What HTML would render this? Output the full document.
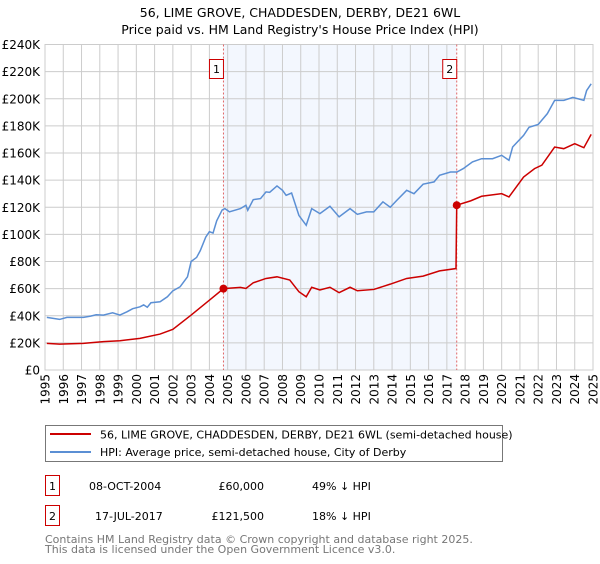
<!DOCTYPE html>
<html><head><meta charset="utf-8"><style>
body{margin:0;background:#fff;font-family:"DejaVu Sans","Liberation Sans",sans-serif;}
svg text{font-family:"DejaVu Sans","Liberation Sans",sans-serif;}
</style></head><body>
<svg id="c" width="600" height="560" xmlns="http://www.w3.org/2000/svg">
<text x="300" y="17" text-anchor="middle" font-size="12.5" fill="#000">56, LIME GROVE, CHADDESDEN, DERBY, DE21 6WL</text>
<text x="300" y="34" text-anchor="middle" font-size="12.5" fill="#000">Price paid vs. HM Land Registry's House Price Index (HPI)</text>
<g id="plot"></g>
<rect x="45.5" y="425.5" width="457" height="36" fill="#fff" stroke="#777"/>
<line x1="50" y1="434" x2="91" y2="434" stroke="#cc0000" stroke-width="2"/>
<text x="100" y="438.5" font-size="11">56, LIME GROVE, CHADDESDEN, DERBY, DE21 6WL (semi-detached house)</text>
<line x1="50" y1="452" x2="91" y2="452" stroke="#5b8fd4" stroke-width="2"/>
<text x="100" y="456" font-size="11">HPI: Average price, semi-detached house, City of Derby</text>
<g>
<rect x="45.5" y="475.5" width="14" height="20" fill="none" stroke="#cc0000"/>
<text x="52.5" y="490" text-anchor="middle" font-size="11">1</text>
<text x="89" y="490" font-size="11">08-OCT-2004</text>
<text x="264" y="490" text-anchor="end" font-size="11">£60,000</text>
<text x="312" y="490" font-size="11">49% ↓ HPI</text></g>
<g>
<rect x="45.5" y="505.5" width="14" height="20" fill="none" stroke="#cc0000"/>
<text x="52.5" y="520" text-anchor="middle" font-size="11">2</text>
<text x="95" y="520" font-size="11">17-JUL-2017</text>
<text x="264" y="520" text-anchor="end" font-size="11">£121,500</text>
<text x="312" y="520" font-size="11">18% ↓ HPI</text></g>
<text x="45" y="543" font-size="11" fill="#777">Contains HM Land Registry data © Crown copyright and database right 2025.</text>
<text x="45" y="553" font-size="11" fill="#777">This data is licensed under the Open Government Licence v3.0.</text>
</svg>
<script>
const hpiYears=[1995.1,1995.8,1996.2,1997.1,1997.5,1997.8,1998.2,1998.7,1999.1,1999.5,1999.8,2000.2,2000.4,2000.6,2000.8,2001.3,2001.7,2002.0,2002.4,2002.8,2003.0,2003.3,2003.5,2003.8,2004.0,2004.2,2004.4,2004.7,2004.85,2005.1,2005.7,2006.0,2006.1,2006.4,2006.8,2007.1,2007.3,2007.7,2008.0,2008.2,2008.5,2008.9,2009.3,2009.6,2010.05,2010.6,2011.1,2011.7,2012.1,2012.6,2013.0,2013.5,2013.9,2014.25,2014.8,2015.2,2015.7,2016.3,2016.6,2017.2,2017.55,2017.9,2018.4,2018.9,2019.5,2020.0,2020.4,2020.6,2021.2,2021.5,2022.0,2022.5,2022.9,2023.4,2023.9,2024.5,2024.65,2024.9];
const hpiValues=[38.8,37.3,38.8,38.8,39.7,40.7,40.5,42.2,40.5,43,45.2,46.6,48,46.3,49.6,50.3,54,58.4,61.4,68.7,80,83,88,98,102,101,110,118,119,116.6,119,121.5,117.8,125.6,126.4,131.3,131,135.7,132.5,128.8,130.5,114,106.7,119,115.3,120.7,112.9,119,114.8,116.6,116.6,124,120,125,132.5,130,137,138.7,143.6,146,146,148.5,153.4,155.8,155.8,158.3,154.6,164.4,173,179,181,189,198.8,198.8,201,198.8,206,211];
const priceYears=[1995.1,1995.8,1997.1,1998.2,1999.1,2000.2,2001.3,2002.0,2003.0,2004.0,2004.77,2005.7,2006.0,2006.4,2007.1,2007.7,2008.4,2008.9,2009.3,2009.6,2010.05,2010.6,2011.1,2011.7,2012.1,2013.0,2013.9,2014.8,2015.7,2016.6,2017.5,2017.54,2018.3,2018.9,2020.0,2020.4,2021.2,2021.8,2022.2,2022.9,2023.4,2024.0,2024.5,2024.9];
const priceValues=[19.6,19.1,19.6,20.9,21.6,23.3,26.5,30,40.5,51.5,60,60.9,60.1,64.3,67.5,68.7,66.3,57.7,54,61,59,61,57,61,58.4,59.4,63.3,67.5,69.2,73.1,74.8,121.5,124.7,128.1,130,127.6,142.3,148.5,151,164.4,163.2,166.9,163.9,173.7];
const saleYears=[2004.77,2017.54];
const saleValues=[60,121.5];
const saleLabels=["1","2"];
const yTicks=[0,20,40,60,80,100,120,140,160,180,200,220,240];
const xTicks=[1995,1996,1997,1998,1999,2000,2001,2002,2003,2004,2005,2006,2007,2008,2009,2010,2011,2012,2013,2014,2015,2016,2017,2018,2019,2020,2021,2022,2023,2024,2025];
const L=45,R=593,T=44.5,B=370;
const X=y=>L+(y-1995)/30*(R-L);
const Y=v=>B-v/240*(B-T);
const NS="http://www.w3.org/2000/svg";
const g=document.getElementById('plot');
function mk(t,a){const e=document.createElementNS(NS,t);for(const k in a)e.setAttribute(k,a[k]);g.appendChild(e);return e;}
let e=mk('rect',{x:X(saleYears[0]),y:T,width:X(saleYears[1])-X(saleYears[0]),height:B-T,fill:'#eef3fd',opacity:0.7});


yTicks.forEach(v=>{
 let l=mk('line',{x1:L,x2:R,y1:Y(v),y2:Y(v),stroke:'#cccccc','stroke-width':1});
 
 
 let t=mk('text',{x:40,y:Y(v)+4.5,'text-anchor':'end','font-size':12});
 t.textContent=v===0?'£0':'£'+v+'K';
 
 
});
xTicks.forEach(yr=>{
 let l=mk('line',{x1:X(yr),x2:X(yr),y1:T,y2:B,stroke:'#cccccc','stroke-width':1});
 
 
 let t=mk('text',{x:0,y:0,'text-anchor':'end','font-size':12,transform:`translate(${X(yr)+4.5},${B+4}) rotate(-90)`});
 t.textContent=yr;
 
 
});
e=mk('rect',{x:L,y:T,width:R-L,height:B-T,fill:'none',stroke:'#cccccc'});


saleYears.forEach((yr,i)=>{
 let l=mk('line',{x1:X(yr),x2:X(yr),y1:T,y2:B,stroke:'#e06666','stroke-width':1,'stroke-dasharray':'2,2'});
 
 
 let r=mk('rect',{x:X(yr)-14,y:59.5,width:14,height:19,fill:'#fff',stroke:'#cc0000'});
 
 
 let t=mk('text',{x:X(yr)-7,y:73,'text-anchor':'middle','font-size':11});
 t.textContent=saleLabels[i];
 
 
});
let p=mk('polyline',{points:hpiYears.map((y,i)=>X(y)+','+Y(hpiValues[i])).join(' '),fill:'none',stroke:'#5b8fd4','stroke-width':1.5});


p=mk('polyline',{points:priceYears.map((y,i)=>X(y)+','+Y(priceValues[i])).join(' '),fill:'none',stroke:'#cc0000','stroke-width':1.5});


saleYears.forEach((yr,i)=>{
 let c=mk('circle',{cx:X(yr),cy:Y(saleValues[i]),r:4,fill:'#cc0000'});
 
 
});
</script>
</body></html>
